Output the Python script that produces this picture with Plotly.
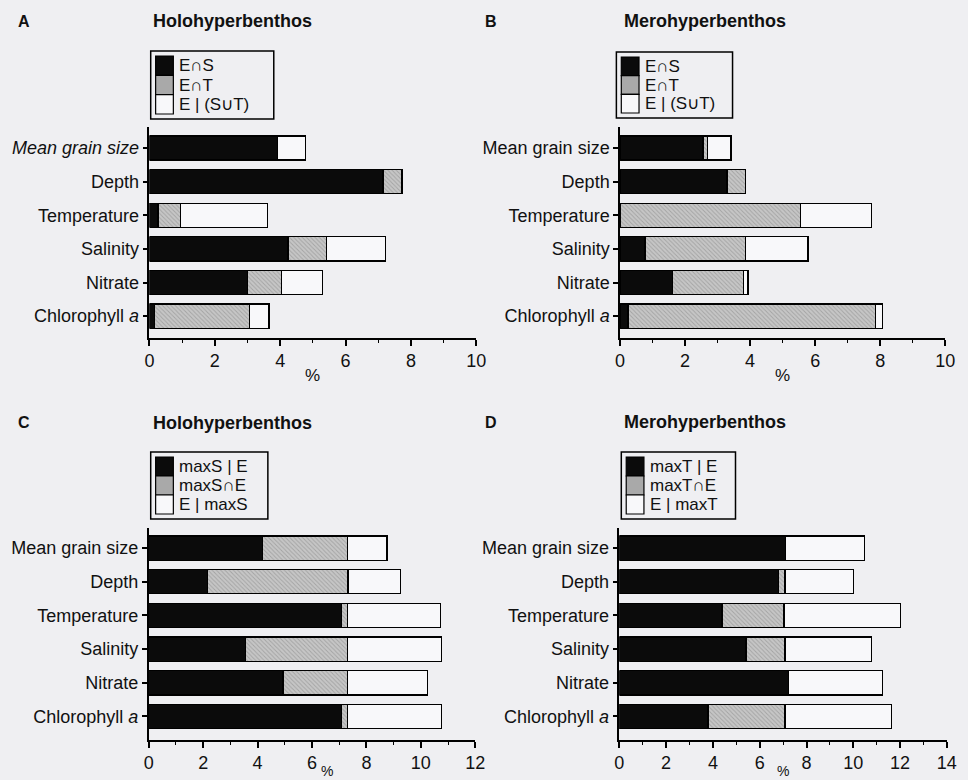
import plotly.graph_objects as go

W, H = 968, 780

factors = ["Mean grain size", "Depth", "Temperature", "Salinity", "Nitrate", "Chlorophyll a"]
tick_text_italic_mgs = ["<i>Mean grain size</i>", "Depth", "Temperature", "Salinity", "Nitrate",
                        "Chlorophyll <i>a</i>"]
tick_text_plain = ["Mean grain size", "Depth", "Temperature", "Salinity", "Nitrate",
                   "Chlorophyll <i>a</i>"]

# A - Holohyperbenthos, explained variation (%)
a_black = [3.92, 7.15, 0.26, 4.24, 3.01, 0.15]
a_gray = [0.00, 0.58, 0.69, 1.18, 1.03, 2.91]
a_white = [0.85, 0.00, 2.66, 1.81, 1.25, 0.60]

# B - Merohyperbenthos
b_black = [2.55, 3.29, 0.00, 0.77, 1.62, 0.25]
b_gray = [0.15, 0.57, 5.56, 3.09, 2.17, 7.60]
b_white = [0.71, 0.00, 2.17, 1.92, 0.15, 0.22]

# C - Holohyperbenthos, relative to maximum spatial model
c_black = [4.19, 2.16, 7.08, 3.55, 4.93, 7.08]
c_gray = [3.11, 5.16, 0.22, 3.75, 2.37, 0.22]
c_white = [1.45, 1.93, 3.42, 3.46, 2.94, 3.46]

# D - Merohyperbenthos, relative to maximum temporal model
d_black = [7.11, 6.80, 4.39, 5.41, 7.22, 3.79]
d_gray = [0.00, 0.28, 2.65, 1.67, 0.00, 3.29]
d_white = [3.37, 2.92, 4.98, 3.71, 4.03, 4.56]

legend_ab = ["E\u2229S", "E\u2229T", "E | (S\u222aT)"]
legend_c = ["maxS | E", "maxS\u2229E", "E | maxS"]
legend_d = ["maxT | E", "maxT\u2229E", "E | maxT"]

BG = "#efeff2"
BLACK = "#0b0b0b"
GRAY = "#bababa"
WHITE = "#f8f8fa"
FONT = "Liberation Sans, Arial, sans-serif"


def fx(x):
    return x / W


def fy(y):
    return 1 - y / H


panels = [
    dict(key="", letter="A", title="Holohyperbenthos", data=(a_black, a_gray, a_white),
         xmax=10, xpx=(146.7, 478.7), ypx=(127, 338), yr=(5.65, -0.625),
         ticks=tick_text_italic_mgs, legend=legend_ab, lx=(148, 273), ly=(51, 119),
         letter_x=11, title_x=148, title_y=21,
         pct_x=312.7, pct_y=375, pct_anchor="middle", pct_size=17),
    dict(key="2", letter="B", title="Merohyperbenthos", data=(b_black, b_gray, b_white),
         xmax=10, xpx=(624.7, 955.0), ypx=(127, 338), yr=(5.65, -0.625),
         ticks=tick_text_plain, legend=legend_ab, lx=(621, 739), ly=(52, 118),
         letter_x=486, title_x=627, title_y=21,
         pct_x=789.8, pct_y=375, pct_anchor="middle", pct_size=17),
    dict(key="3", letter="C", title="Holohyperbenthos", data=(c_black, c_gray, c_white),
         xmax=12, xpx=(146.0, 477.7), ypx=(528, 740), yr=(5.70, -0.595),
         ticks=tick_text_plain, legend=legend_c, lx=(148, 267), ly=(452, 519),
         letter_x=11, title_x=148, title_y=423,
         pct_x=327, pct_y=780, pct_anchor="bottom", pct_size=14),
    dict(key="4", letter="D", title="Merohyperbenthos", data=(d_black, d_gray, d_white),
         xmax=14, xpx=(624.0, 956.7), ypx=(528, 740), yr=(5.70, -0.595),
         ticks=tick_text_plain, legend=legend_d, lx=(626, 742), ly=(452, 519),
         letter_x=486, title_x=627, title_y=422,
         pct_x=790.3, pct_y=780, pct_anchor="bottom", pct_size=14),
]

fig = go.Figure()
ypos = list(range(len(factors)))
shapes = []
annotations = []
layout = {}

for p in panels:
    k = p["key"]
    xa, ya = "x" + k, "y" + k
    blk, gry, wht = p["data"]
    line = dict(color="black", width=1.3)
    fig.add_trace(go.Bar(x=blk, y=ypos, orientation="h", xaxis=xa, yaxis=ya,
                         marker=dict(color=BLACK, line=line), showlegend=False,
                         hoverinfo="x"))
    fig.add_trace(go.Bar(x=gry, y=ypos, orientation="h", xaxis=xa, yaxis=ya,
                         marker=dict(color=GRAY, line=line,
                                     pattern=dict(shape="\\", fgcolor="#808080", bgcolor="#c6c6c6",
                                                  size=3, solidity=0.3)),
                         showlegend=False, hoverinfo="x"))
    fig.add_trace(go.Bar(x=wht, y=ypos, orientation="h", xaxis=xa, yaxis=ya,
                         marker=dict(color=WHITE, line=line), showlegend=False,
                         hoverinfo="x"))

    layout["xaxis" + k] = dict(
        domain=[fx(p["xpx"][0]), fx(p["xpx"][1])], anchor=ya, range=[0, p["xmax"]],
        tick0=0, dtick=2, ticks="outside", ticklen=6, tickwidth=1.5, tickcolor="black",
        showline=True, linecolor="black", linewidth=1.5, showgrid=False, zeroline=False,
        minor=dict(dtick=1, ticks="outside", ticklen=3, tickwidth=1.2, tickcolor="black",
                   showgrid=False),
        tickfont=dict(family=FONT, size=18, color="#111"),
    )
    layout["yaxis" + k] = dict(
        domain=[fy(p["ypx"][1]), fy(p["ypx"][0])], anchor=xa, range=list(p["yr"]),
        tickvals=ypos, ticktext=p["ticks"], ticks="outside", ticklen=5, tickwidth=1.5,
        tickcolor="black", showline=True, linecolor="black", linewidth=1.5,
        showgrid=False, zeroline=False, tickfont=dict(family=FONT, size=18, color="#111"),
    )

    # x-axis unit label
    annotations.append(dict(x=fx(p["pct_x"]), y=fy(p["pct_y"]),
                            xref="paper", yref="paper", text="%", showarrow=False,
                            xanchor="center", yanchor=p["pct_anchor"], borderpad=0,
                            font=dict(family=FONT, size=p["pct_size"], color="#111")))

    # panel letter and title
    annotations.append(dict(x=fx(p["letter_x"]), y=fy(p["title_y"]), xref="paper", yref="paper",
                            text="<b>%s</b>" % p["letter"], showarrow=False, xanchor="left",
                            yanchor="middle", font=dict(family=FONT, size=16, color="#111")))
    annotations.append(dict(x=fx(p["title_x"]), y=fy(p["title_y"]), xref="paper", yref="paper",
                            text="<b>%s</b>" % p["title"], showarrow=False, xanchor="left",
                            yanchor="middle", font=dict(family=FONT, size=18, color="#111")))

    # key box
    x0, x1 = p["lx"]
    y0, y1 = p["ly"]
    shapes.append(dict(type="rect", xref="paper", yref="paper", x0=fx(x0), x1=fx(x1),
                       y0=fy(y1), y1=fy(y0), line=dict(color="black", width=1.5),
                       fillcolor="rgba(0,0,0,0)"))
    sx0 = x0 + 5
    sx1 = sx0 + 18
    row_h = (y1 - y0 - 10) / 3
    for i, (col, lab) in enumerate(zip([BLACK, "#a9a9a9", WHITE], p["legend"])):
        ry0 = y0 + 5 + i * row_h
        ry1 = ry0 + row_h
        shapes.append(dict(type="rect", xref="paper", yref="paper", x0=fx(sx0), x1=fx(sx1),
                           y0=fy(ry1), y1=fy(ry0), line=dict(color="black", width=1.2),
                           fillcolor=col))
        annotations.append(dict(x=fx(sx1 + 4), y=fy((ry0 + ry1) / 2), xref="paper", yref="paper",
                                text=lab, showarrow=False, xanchor="left", yanchor="middle",
                                font=dict(family=FONT, size=17, color="#111")))

fig.update_layout(
    width=W, height=H, margin=dict(l=0, r=0, t=0, b=0),
    paper_bgcolor=BG, plot_bgcolor="rgba(0,0,0,0)",
    barmode="stack", bargap=0.28, showlegend=False,
    shapes=shapes, annotations=annotations,
    font=dict(family=FONT, color="#111"),
    **layout,
)

fig.write_html("out.html")
